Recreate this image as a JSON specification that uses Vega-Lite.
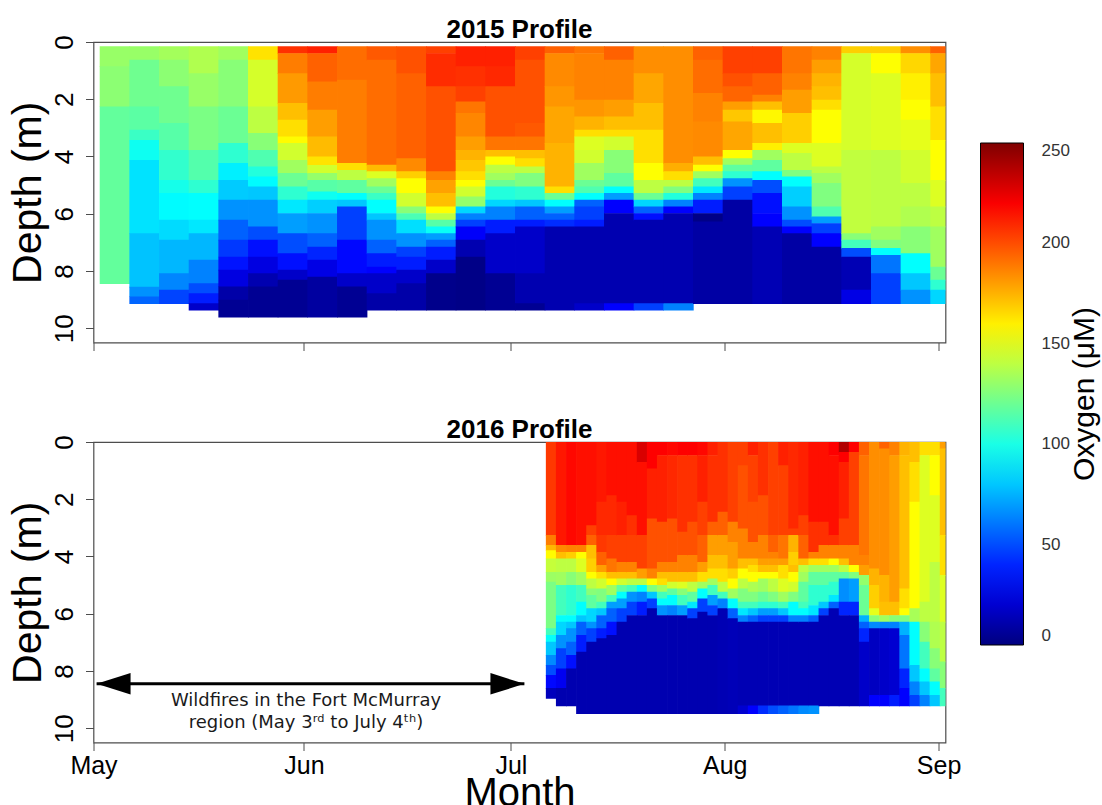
{
"$schema": "https://vega.github.io/schema/vega-lite/v6.json",
"background": "white",
"padding": {"left": 6.5, "top": 16, "right": 0, "bottom": 0},
"config": {
  "font": "Liberation Sans",
  "view": {"stroke": "#4d4d4d", "strokeWidth": 1.2},
  "axis": {"grid": false, "domain": false, "tickColor": "#4d4d4d", "tickSize": 8, "labelColor": "#000", "titleColor": "#000", "titleFontWeight": "normal"},
  "title": {"fontSize": 26, "fontWeight": "bold", "color": "#000", "baseline": "alphabetic", "offset": -8.2},
  "concat": {"spacing": 64}
},
"datasets": {
"y15": [
{"d":1.4,"e":5.7,"t":0.15,"b":0.85,"o":131},{"d":1.4,"e":5.7,"t":0.85,"b":2.25,"o":128},{"d":1.4,"e":5.7,"t":2.25,"b":8.43,"o":118},
{"d":5.7,"e":10.0,"t":0.15,"b":0.62,"o":131},{"d":5.7,"e":10.0,"t":0.62,"b":2.25,"o":121},{"d":5.7,"e":10.0,"t":2.25,"b":3.07,"o":116},{"d":5.7,"e":10.0,"t":3.07,"b":3.42,"o":108},{"d":5.7,"e":10.0,"t":3.42,"b":4.12,"o":97},{"d":5.7,"e":10.0,"t":4.12,"b":6.68,"o":87},{"d":5.7,"e":10.0,"t":6.68,"b":8.55,"o":79},{"d":5.7,"e":10.0,"t":8.55,"b":8.89,"o":67},{"d":5.7,"e":10.0,"t":8.89,"b":9.13,"o":56},
{"d":10.0,"e":14.3,"t":0.15,"b":0.62,"o":134},{"d":10.0,"e":14.3,"t":0.62,"b":1.55,"o":128},{"d":10.0,"e":14.3,"t":1.55,"b":2.83,"o":121},{"d":10.0,"e":14.3,"t":2.83,"b":3.77,"o":115},{"d":10.0,"e":14.3,"t":3.77,"b":4.82,"o":106},{"d":10.0,"e":14.3,"t":4.82,"b":5.28,"o":99},{"d":10.0,"e":14.3,"t":5.28,"b":6.21,"o":93},{"d":10.0,"e":14.3,"t":6.21,"b":6.91,"o":85},{"d":10.0,"e":14.3,"t":6.91,"b":8.08,"o":76},{"d":10.0,"e":14.3,"t":8.08,"b":8.66,"o":64},{"d":10.0,"e":14.3,"t":8.66,"b":9.13,"o":48},
{"d":14.3,"e":18.6,"t":0.15,"b":1.09,"o":137},{"d":14.3,"e":18.6,"t":1.09,"b":2.25,"o":131},{"d":14.3,"e":18.6,"t":2.25,"b":3.77,"o":124},{"d":14.3,"e":18.6,"t":3.77,"b":4.82,"o":114},{"d":14.3,"e":18.6,"t":4.82,"b":5.28,"o":105},{"d":14.3,"e":18.6,"t":5.28,"b":6.21,"o":94},{"d":14.3,"e":18.6,"t":6.21,"b":6.68,"o":88},{"d":14.3,"e":18.6,"t":6.68,"b":7.61,"o":76},{"d":14.3,"e":18.6,"t":7.61,"b":8.43,"o":63},{"d":14.3,"e":18.6,"t":8.43,"b":8.78,"o":50},{"d":14.3,"e":18.6,"t":8.78,"b":9.13,"o":38},{"d":14.3,"e":18.6,"t":9.13,"b":9.36,"o":18},
{"d":18.6,"e":22.9,"t":0.15,"b":0.62,"o":133},{"d":18.6,"e":22.9,"t":0.62,"b":2.25,"o":127},{"d":18.6,"e":22.9,"t":2.25,"b":3.53,"o":120},{"d":18.6,"e":22.9,"t":3.53,"b":4.23,"o":105},{"d":18.6,"e":22.9,"t":4.23,"b":4.82,"o":90},{"d":18.6,"e":22.9,"t":4.82,"b":5.51,"o":81},{"d":18.6,"e":22.9,"t":5.51,"b":6.21,"o":67},{"d":18.6,"e":22.9,"t":6.21,"b":6.91,"o":55},{"d":18.6,"e":22.9,"t":6.91,"b":7.5,"o":45},{"d":18.6,"e":22.9,"t":7.5,"b":7.96,"o":36},{"d":18.6,"e":22.9,"t":7.96,"b":8.54,"o":24},{"d":18.6,"e":22.9,"t":8.54,"b":9.01,"o":10},{"d":18.6,"e":22.9,"t":9.01,"b":9.6,"o":5},
{"d":22.9,"e":27.2,"t":0.15,"b":0.62,"o":163},{"d":22.9,"e":27.2,"t":0.62,"b":2.25,"o":146},{"d":22.9,"e":27.2,"t":2.25,"b":3.18,"o":140},{"d":22.9,"e":27.2,"t":3.18,"b":3.77,"o":127},{"d":22.9,"e":27.2,"t":3.77,"b":4.35,"o":113},{"d":22.9,"e":27.2,"t":4.35,"b":4.7,"o":102},{"d":22.9,"e":27.2,"t":4.7,"b":5.05,"o":93},{"d":22.9,"e":27.2,"t":5.05,"b":5.51,"o":80},{"d":22.9,"e":27.2,"t":5.51,"b":6.45,"o":67},{"d":22.9,"e":27.2,"t":6.45,"b":6.91,"o":50},{"d":22.9,"e":27.2,"t":6.91,"b":7.5,"o":35},{"d":22.9,"e":27.2,"t":7.5,"b":8.08,"o":24},{"d":22.9,"e":27.2,"t":8.08,"b":8.54,"o":12},{"d":22.9,"e":27.2,"t":8.54,"b":9.6,"o":5},
{"d":27.2,"e":31.5,"t":0.15,"b":0.39,"o":207},{"d":27.2,"e":31.5,"t":0.39,"b":1.09,"o":188},{"d":27.2,"e":31.5,"t":1.09,"b":2.13,"o":181},{"d":27.2,"e":31.5,"t":2.13,"b":2.72,"o":172},{"d":27.2,"e":31.5,"t":2.72,"b":3.3,"o":164},{"d":27.2,"e":31.5,"t":3.3,"b":3.53,"o":157},{"d":27.2,"e":31.5,"t":3.53,"b":4.12,"o":145},{"d":27.2,"e":31.5,"t":4.12,"b":4.58,"o":133},{"d":27.2,"e":31.5,"t":4.58,"b":5.05,"o":120},{"d":27.2,"e":31.5,"t":5.05,"b":5.51,"o":105},{"d":27.2,"e":31.5,"t":5.51,"b":5.98,"o":88},{"d":27.2,"e":31.5,"t":5.98,"b":6.68,"o":70},{"d":27.2,"e":31.5,"t":6.68,"b":7.38,"o":50},{"d":27.2,"e":31.5,"t":7.38,"b":7.96,"o":35},{"d":27.2,"e":31.5,"t":7.96,"b":8.31,"o":18},{"d":27.2,"e":31.5,"t":8.31,"b":9.6,"o":5},
{"d":31.5,"e":35.8,"t":0.15,"b":0.39,"o":211},{"d":31.5,"e":35.8,"t":0.39,"b":1.38,"o":195},{"d":31.5,"e":35.8,"t":1.38,"b":2.37,"o":188},{"d":31.5,"e":35.8,"t":2.37,"b":3.3,"o":180},{"d":31.5,"e":35.8,"t":3.3,"b":4.0,"o":173},{"d":31.5,"e":35.8,"t":4.0,"b":4.3,"o":163},{"d":31.5,"e":35.8,"t":4.3,"b":4.58,"o":145},{"d":31.5,"e":35.8,"t":4.58,"b":4.82,"o":130},{"d":31.5,"e":35.8,"t":4.82,"b":5.22,"o":115},{"d":31.5,"e":35.8,"t":5.22,"b":5.51,"o":97},{"d":31.5,"e":35.8,"t":5.51,"b":5.98,"o":82},{"d":31.5,"e":35.8,"t":5.98,"b":6.68,"o":67},{"d":31.5,"e":35.8,"t":6.68,"b":7.15,"o":55},{"d":31.5,"e":35.8,"t":7.15,"b":7.61,"o":40},{"d":31.5,"e":35.8,"t":7.61,"b":8.2,"o":25},{"d":31.5,"e":35.8,"t":8.2,"b":9.6,"o":8},
{"d":35.8,"e":40.1,"t":0.15,"b":1.32,"o":192},{"d":35.8,"e":40.1,"t":1.32,"b":4.23,"o":188},{"d":35.8,"e":40.1,"t":4.23,"b":4.47,"o":164},{"d":35.8,"e":40.1,"t":4.47,"b":4.82,"o":140},{"d":35.8,"e":40.1,"t":4.82,"b":5.28,"o":117},{"d":35.8,"e":40.1,"t":5.28,"b":5.51,"o":94},{"d":35.8,"e":40.1,"t":5.51,"b":5.75,"o":80},{"d":35.8,"e":40.1,"t":5.75,"b":6.91,"o":47},{"d":35.8,"e":40.1,"t":6.91,"b":8.08,"o":33},{"d":35.8,"e":40.1,"t":8.08,"b":8.54,"o":18},{"d":35.8,"e":40.1,"t":8.54,"b":9.6,"o":5},
{"d":40.1,"e":44.4,"t":0.15,"b":0.62,"o":197},{"d":40.1,"e":44.4,"t":0.62,"b":4.29,"o":192},{"d":40.1,"e":44.4,"t":4.29,"b":4.52,"o":173},{"d":40.1,"e":44.4,"t":4.52,"b":4.76,"o":148},{"d":40.1,"e":44.4,"t":4.76,"b":5.05,"o":133},{"d":40.1,"e":44.4,"t":5.05,"b":5.28,"o":120},{"d":40.1,"e":44.4,"t":5.28,"b":5.51,"o":108},{"d":40.1,"e":44.4,"t":5.51,"b":5.98,"o":94},{"d":40.1,"e":44.4,"t":5.98,"b":6.21,"o":80},{"d":40.1,"e":44.4,"t":6.21,"b":6.91,"o":67},{"d":40.1,"e":44.4,"t":6.91,"b":7.38,"o":55},{"d":40.1,"e":44.4,"t":7.38,"b":7.85,"o":38},{"d":40.1,"e":44.4,"t":7.85,"b":8.08,"o":31},{"d":40.1,"e":44.4,"t":8.08,"b":8.78,"o":18},{"d":40.1,"e":44.4,"t":8.78,"b":9.36,"o":10},
{"d":44.4,"e":48.7,"t":0.15,"b":1.09,"o":199},{"d":44.4,"e":48.7,"t":1.09,"b":4.06,"o":195},{"d":44.4,"e":48.7,"t":4.06,"b":4.52,"o":185},{"d":44.4,"e":48.7,"t":4.52,"b":4.76,"o":168},{"d":44.4,"e":48.7,"t":4.76,"b":5.28,"o":156},{"d":44.4,"e":48.7,"t":5.28,"b":5.75,"o":145},{"d":44.4,"e":48.7,"t":5.75,"b":5.98,"o":127},{"d":44.4,"e":48.7,"t":5.98,"b":6.21,"o":112},{"d":44.4,"e":48.7,"t":6.21,"b":6.68,"o":86},{"d":44.4,"e":48.7,"t":6.68,"b":7.15,"o":67},{"d":44.4,"e":48.7,"t":7.15,"b":7.5,"o":47},{"d":44.4,"e":48.7,"t":7.5,"b":7.96,"o":38},{"d":44.4,"e":48.7,"t":7.96,"b":8.43,"o":18},{"d":44.4,"e":48.7,"t":8.43,"b":9.36,"o":10},
{"d":48.7,"e":53.0,"t":0.15,"b":0.39,"o":203},{"d":48.7,"e":53.0,"t":0.39,"b":1.55,"o":208},{"d":48.7,"e":53.0,"t":1.55,"b":4.52,"o":199},{"d":48.7,"e":53.0,"t":4.52,"b":4.82,"o":187},{"d":48.7,"e":53.0,"t":4.82,"b":5.28,"o":179},{"d":48.7,"e":53.0,"t":5.28,"b":5.75,"o":172},{"d":48.7,"e":53.0,"t":5.75,"b":5.98,"o":156},{"d":48.7,"e":53.0,"t":5.98,"b":6.21,"o":140},{"d":48.7,"e":53.0,"t":6.21,"b":6.45,"o":115},{"d":48.7,"e":53.0,"t":6.45,"b":6.68,"o":96},{"d":48.7,"e":53.0,"t":6.68,"b":6.91,"o":70},{"d":48.7,"e":53.0,"t":6.91,"b":7.15,"o":55},{"d":48.7,"e":53.0,"t":7.15,"b":7.61,"o":38},{"d":48.7,"e":53.0,"t":7.61,"b":8.08,"o":18},{"d":48.7,"e":53.0,"t":8.08,"b":9.36,"o":3},
{"d":53.0,"e":57.3,"t":0.15,"b":0.85,"o":211},{"d":53.0,"e":57.3,"t":0.85,"b":1.55,"o":207},{"d":53.0,"e":57.3,"t":1.55,"b":2.08,"o":203},{"d":53.0,"e":57.3,"t":2.08,"b":2.48,"o":190},{"d":53.0,"e":57.3,"t":2.48,"b":3.3,"o":186},{"d":53.0,"e":57.3,"t":3.3,"b":3.77,"o":180},{"d":53.0,"e":57.3,"t":3.77,"b":4.12,"o":175},{"d":53.0,"e":57.3,"t":4.12,"b":4.52,"o":170},{"d":53.0,"e":57.3,"t":4.52,"b":4.82,"o":164},{"d":53.0,"e":57.3,"t":4.82,"b":5.05,"o":156},{"d":53.0,"e":57.3,"t":5.05,"b":5.4,"o":145},{"d":53.0,"e":57.3,"t":5.4,"b":5.75,"o":130},{"d":53.0,"e":57.3,"t":5.75,"b":5.98,"o":84},{"d":53.0,"e":57.3,"t":5.98,"b":6.21,"o":63},{"d":53.0,"e":57.3,"t":6.21,"b":6.45,"o":47},{"d":53.0,"e":57.3,"t":6.45,"b":6.91,"o":30},{"d":53.0,"e":57.3,"t":6.91,"b":7.5,"o":12},{"d":53.0,"e":57.3,"t":7.5,"b":9.36,"o":2},
{"d":57.3,"e":61.6,"t":0.15,"b":0.85,"o":211},{"d":57.3,"e":61.6,"t":0.85,"b":1.55,"o":209},{"d":57.3,"e":61.6,"t":1.55,"b":3.3,"o":199},{"d":57.3,"e":61.6,"t":3.3,"b":3.77,"o":190},{"d":57.3,"e":61.6,"t":3.77,"b":4.0,"o":172},{"d":57.3,"e":61.6,"t":4.0,"b":4.29,"o":156},{"d":57.3,"e":61.6,"t":4.29,"b":4.58,"o":140},{"d":57.3,"e":61.6,"t":4.58,"b":4.82,"o":133},{"d":57.3,"e":61.6,"t":4.82,"b":5.05,"o":120},{"d":57.3,"e":61.6,"t":5.05,"b":5.51,"o":102},{"d":57.3,"e":61.6,"t":5.51,"b":5.75,"o":84},{"d":57.3,"e":61.6,"t":5.75,"b":6.21,"o":63},{"d":57.3,"e":61.6,"t":6.21,"b":6.68,"o":38},{"d":57.3,"e":61.6,"t":6.68,"b":8.08,"o":18},{"d":57.3,"e":61.6,"t":8.08,"b":9.36,"o":5},
{"d":61.6,"e":65.9,"t":0.15,"b":0.62,"o":203},{"d":61.6,"e":65.9,"t":0.62,"b":2.83,"o":199},{"d":61.6,"e":65.9,"t":2.83,"b":3.3,"o":197},{"d":61.6,"e":65.9,"t":3.3,"b":3.77,"o":190},{"d":61.6,"e":65.9,"t":3.77,"b":4.06,"o":172},{"d":61.6,"e":65.9,"t":4.06,"b":4.35,"o":164},{"d":61.6,"e":65.9,"t":4.35,"b":4.58,"o":140},{"d":61.6,"e":65.9,"t":4.58,"b":5.05,"o":125},{"d":61.6,"e":65.9,"t":5.05,"b":5.51,"o":105},{"d":61.6,"e":65.9,"t":5.51,"b":5.75,"o":80},{"d":61.6,"e":65.9,"t":5.75,"b":6.21,"o":55},{"d":61.6,"e":65.9,"t":6.21,"b":6.45,"o":38},{"d":61.6,"e":65.9,"t":6.45,"b":8.08,"o":18},{"d":61.6,"e":65.9,"t":8.08,"b":9.13,"o":12},{"d":61.6,"e":65.9,"t":9.13,"b":9.36,"o":5},
{"d":65.9,"e":70.2,"t":0.15,"b":0.39,"o":195},{"d":65.9,"e":70.2,"t":0.39,"b":1.55,"o":185},{"d":65.9,"e":70.2,"t":1.55,"b":2.25,"o":182},{"d":65.9,"e":70.2,"t":2.25,"b":3.53,"o":178},{"d":65.9,"e":70.2,"t":3.53,"b":5.05,"o":175},{"d":65.9,"e":70.2,"t":5.05,"b":5.28,"o":164},{"d":65.9,"e":70.2,"t":5.28,"b":5.51,"o":120},{"d":65.9,"e":70.2,"t":5.51,"b":5.75,"o":94},{"d":65.9,"e":70.2,"t":5.75,"b":5.98,"o":70},{"d":65.9,"e":70.2,"t":5.98,"b":6.21,"o":55},{"d":65.9,"e":70.2,"t":6.21,"b":6.45,"o":42},{"d":65.9,"e":70.2,"t":6.45,"b":9.36,"o":12},
{"d":70.2,"e":74.5,"t":0.15,"b":0.39,"o":190},{"d":70.2,"e":74.5,"t":0.39,"b":2.02,"o":187},{"d":70.2,"e":74.5,"t":2.02,"b":2.6,"o":182},{"d":70.2,"e":74.5,"t":2.6,"b":3.07,"o":175},{"d":70.2,"e":74.5,"t":3.07,"b":3.3,"o":164},{"d":70.2,"e":74.5,"t":3.3,"b":3.77,"o":148},{"d":70.2,"e":74.5,"t":3.77,"b":4.23,"o":145},{"d":70.2,"e":74.5,"t":4.23,"b":4.82,"o":133},{"d":70.2,"e":74.5,"t":4.82,"b":5.05,"o":120},{"d":70.2,"e":74.5,"t":5.05,"b":5.28,"o":113},{"d":70.2,"e":74.5,"t":5.28,"b":5.51,"o":94},{"d":70.2,"e":74.5,"t":5.51,"b":5.75,"o":55},{"d":70.2,"e":74.5,"t":5.75,"b":6.21,"o":47},{"d":70.2,"e":74.5,"t":6.21,"b":6.45,"o":38},{"d":70.2,"e":74.5,"t":6.45,"b":9.13,"o":12},{"d":70.2,"e":74.5,"t":9.13,"b":9.36,"o":18},
{"d":74.5,"e":78.8,"t":0.15,"b":0.62,"o":195},{"d":74.5,"e":78.8,"t":0.62,"b":2.02,"o":187},{"d":74.5,"e":78.8,"t":2.02,"b":2.6,"o":180},{"d":74.5,"e":78.8,"t":2.6,"b":3.07,"o":172},{"d":74.5,"e":78.8,"t":3.07,"b":3.3,"o":164},{"d":74.5,"e":78.8,"t":3.3,"b":3.77,"o":145},{"d":74.5,"e":78.8,"t":3.77,"b":4.58,"o":127},{"d":74.5,"e":78.8,"t":4.58,"b":5.05,"o":117},{"d":74.5,"e":78.8,"t":5.05,"b":5.28,"o":94},{"d":74.5,"e":78.8,"t":5.28,"b":5.51,"o":70},{"d":74.5,"e":78.8,"t":5.51,"b":5.98,"o":31},{"d":74.5,"e":78.8,"t":5.98,"b":9.13,"o":12},{"d":74.5,"e":78.8,"t":9.13,"b":9.36,"o":31},
{"d":78.8,"e":83.1,"t":0.15,"b":1.09,"o":184},{"d":78.8,"e":83.1,"t":1.09,"b":2.13,"o":178},{"d":78.8,"e":83.1,"t":2.13,"b":3.07,"o":172},{"d":78.8,"e":83.1,"t":3.07,"b":4.23,"o":164},{"d":78.8,"e":83.1,"t":4.23,"b":4.82,"o":156},{"d":78.8,"e":83.1,"t":4.82,"b":5.28,"o":140},{"d":78.8,"e":83.1,"t":5.28,"b":5.51,"o":120},{"d":78.8,"e":83.1,"t":5.51,"b":5.75,"o":84},{"d":78.8,"e":83.1,"t":5.75,"b":5.98,"o":55},{"d":78.8,"e":83.1,"t":5.98,"b":6.21,"o":35},{"d":78.8,"e":83.1,"t":6.21,"b":9.13,"o":12},{"d":78.8,"e":83.1,"t":9.13,"b":9.36,"o":47},
{"d":83.1,"e":87.4,"t":0.15,"b":4.23,"o":184},{"d":83.1,"e":87.4,"t":4.23,"b":4.52,"o":176},{"d":83.1,"e":87.4,"t":4.52,"b":4.82,"o":164},{"d":83.1,"e":87.4,"t":4.82,"b":5.05,"o":140},{"d":83.1,"e":87.4,"t":5.05,"b":5.28,"o":125},{"d":83.1,"e":87.4,"t":5.28,"b":5.51,"o":102},{"d":83.1,"e":87.4,"t":5.51,"b":5.75,"o":63},{"d":83.1,"e":87.4,"t":5.75,"b":5.98,"o":31},{"d":83.1,"e":87.4,"t":5.98,"b":9.13,"o":12},{"d":83.1,"e":87.4,"t":9.13,"b":9.36,"o":63},
{"d":87.4,"e":91.7,"t":0.15,"b":0.62,"o":195},{"d":87.4,"e":91.7,"t":0.62,"b":1.78,"o":192},{"d":87.4,"e":91.7,"t":1.78,"b":2.78,"o":187},{"d":87.4,"e":91.7,"t":2.78,"b":4.0,"o":185},{"d":87.4,"e":91.7,"t":4.0,"b":4.29,"o":172},{"d":87.4,"e":91.7,"t":4.29,"b":4.52,"o":156},{"d":87.4,"e":91.7,"t":4.52,"b":4.76,"o":133},{"d":87.4,"e":91.7,"t":4.76,"b":5.05,"o":110},{"d":87.4,"e":91.7,"t":5.05,"b":5.28,"o":88},{"d":87.4,"e":91.7,"t":5.28,"b":5.51,"o":63},{"d":87.4,"e":91.7,"t":5.51,"b":5.98,"o":38},{"d":87.4,"e":91.7,"t":5.98,"b":6.27,"o":2},{"d":87.4,"e":91.7,"t":6.27,"b":9.13,"o":9},
{"d":91.7,"e":96.0,"t":0.15,"b":1.09,"o":203},{"d":91.7,"e":96.0,"t":1.09,"b":1.55,"o":199},{"d":91.7,"e":96.0,"t":1.55,"b":2.08,"o":194},{"d":91.7,"e":96.0,"t":2.08,"b":2.37,"o":180},{"d":91.7,"e":96.0,"t":2.37,"b":2.78,"o":170},{"d":91.7,"e":96.0,"t":2.78,"b":3.77,"o":178},{"d":91.7,"e":96.0,"t":3.77,"b":4.06,"o":156},{"d":91.7,"e":96.0,"t":4.06,"b":4.29,"o":133},{"d":91.7,"e":96.0,"t":4.29,"b":4.52,"o":117},{"d":91.7,"e":96.0,"t":4.52,"b":4.76,"o":105},{"d":91.7,"e":96.0,"t":4.76,"b":5.05,"o":67},{"d":91.7,"e":96.0,"t":5.05,"b":5.51,"o":47},{"d":91.7,"e":96.0,"t":5.51,"b":9.13,"o":9},
{"d":96.0,"e":100.3,"t":0.15,"b":1.09,"o":203},{"d":96.0,"e":100.3,"t":1.09,"b":1.84,"o":195},{"d":96.0,"e":100.3,"t":1.84,"b":2.08,"o":187},{"d":96.0,"e":100.3,"t":2.08,"b":2.37,"o":172},{"d":96.0,"e":100.3,"t":2.37,"b":2.83,"o":158},{"d":96.0,"e":100.3,"t":2.83,"b":3.53,"o":172},{"d":96.0,"e":100.3,"t":3.53,"b":3.77,"o":160},{"d":96.0,"e":100.3,"t":3.77,"b":4.12,"o":133},{"d":96.0,"e":100.3,"t":4.12,"b":4.52,"o":117},{"d":96.0,"e":100.3,"t":4.52,"b":4.82,"o":94},{"d":96.0,"e":100.3,"t":4.82,"b":5.28,"o":50},{"d":96.0,"e":100.3,"t":5.28,"b":5.98,"o":35},{"d":96.0,"e":100.3,"t":5.98,"b":6.45,"o":31},{"d":96.0,"e":100.3,"t":6.45,"b":9.13,"o":13},
{"d":100.3,"e":104.6,"t":0.15,"b":1.09,"o":190},{"d":100.3,"e":104.6,"t":1.09,"b":1.67,"o":187},{"d":100.3,"e":104.6,"t":1.67,"b":2.48,"o":180},{"d":100.3,"e":104.6,"t":2.48,"b":3.53,"o":168},{"d":100.3,"e":104.6,"t":3.53,"b":3.88,"o":148},{"d":100.3,"e":104.6,"t":3.88,"b":4.47,"o":140},{"d":100.3,"e":104.6,"t":4.47,"b":4.7,"o":125},{"d":100.3,"e":104.6,"t":4.7,"b":5.05,"o":94},{"d":100.3,"e":104.6,"t":5.05,"b":5.75,"o":82},{"d":100.3,"e":104.6,"t":5.75,"b":6.21,"o":67},{"d":100.3,"e":104.6,"t":6.21,"b":6.45,"o":50},{"d":100.3,"e":104.6,"t":6.45,"b":6.68,"o":31},{"d":100.3,"e":104.6,"t":6.68,"b":9.13,"o":9},
{"d":104.6,"e":108.9,"t":0.15,"b":0.62,"o":187},{"d":104.6,"e":108.9,"t":0.62,"b":1.09,"o":180},{"d":104.6,"e":108.9,"t":1.09,"b":1.55,"o":175},{"d":104.6,"e":108.9,"t":1.55,"b":2.02,"o":172},{"d":104.6,"e":108.9,"t":2.02,"b":2.37,"o":164},{"d":104.6,"e":108.9,"t":2.37,"b":3.53,"o":156},{"d":104.6,"e":108.9,"t":3.53,"b":4.35,"o":148},{"d":104.6,"e":108.9,"t":4.35,"b":4.58,"o":140},{"d":104.6,"e":108.9,"t":4.58,"b":4.93,"o":133},{"d":104.6,"e":108.9,"t":4.93,"b":5.75,"o":125},{"d":104.6,"e":108.9,"t":5.75,"b":6.1,"o":113},{"d":104.6,"e":108.9,"t":6.1,"b":6.33,"o":70},{"d":104.6,"e":108.9,"t":6.33,"b":6.68,"o":47},{"d":104.6,"e":108.9,"t":6.68,"b":7.15,"o":31},{"d":104.6,"e":108.9,"t":7.15,"b":9.13,"o":9},
{"d":108.9,"e":113.2,"t":0.15,"b":0.39,"o":168},{"d":108.9,"e":113.2,"t":0.39,"b":3.77,"o":146},{"d":108.9,"e":113.2,"t":3.77,"b":6.68,"o":141},{"d":108.9,"e":113.2,"t":6.68,"b":6.91,"o":127},{"d":108.9,"e":113.2,"t":6.91,"b":7.2,"o":110},{"d":108.9,"e":113.2,"t":7.2,"b":7.5,"o":50},{"d":108.9,"e":113.2,"t":7.5,"b":8.66,"o":13},{"d":108.9,"e":113.2,"t":8.66,"b":9.13,"o":25},
{"d":113.2,"e":117.5,"t":0.15,"b":0.39,"o":168},{"d":113.2,"e":117.5,"t":0.39,"b":1.09,"o":156},{"d":113.2,"e":117.5,"t":1.09,"b":3.77,"o":148},{"d":113.2,"e":117.5,"t":3.77,"b":6.45,"o":140},{"d":113.2,"e":117.5,"t":6.45,"b":6.91,"o":133},{"d":113.2,"e":117.5,"t":6.91,"b":7.2,"o":125},{"d":113.2,"e":117.5,"t":7.2,"b":7.44,"o":94},{"d":113.2,"e":117.5,"t":7.44,"b":8.08,"o":60},{"d":113.2,"e":117.5,"t":8.08,"b":9.13,"o":47},
{"d":117.5,"e":121.8,"t":0.15,"b":0.39,"o":184},{"d":117.5,"e":121.8,"t":0.39,"b":1.09,"o":166},{"d":117.5,"e":121.8,"t":1.09,"b":2.02,"o":160},{"d":117.5,"e":121.8,"t":2.02,"b":2.72,"o":156},{"d":117.5,"e":121.8,"t":2.72,"b":3.77,"o":150},{"d":117.5,"e":121.8,"t":3.77,"b":4.93,"o":145},{"d":117.5,"e":121.8,"t":4.93,"b":5.75,"o":140},{"d":117.5,"e":121.8,"t":5.75,"b":6.45,"o":137},{"d":117.5,"e":121.8,"t":6.45,"b":7.38,"o":127},{"d":117.5,"e":121.8,"t":7.38,"b":8.08,"o":94},{"d":117.5,"e":121.8,"t":8.08,"b":8.66,"o":80},{"d":117.5,"e":121.8,"t":8.66,"b":9.13,"o":67},
{"d":121.8,"e":126.1,"t":0.15,"b":0.39,"o":195},{"d":121.8,"e":126.1,"t":0.39,"b":1.09,"o":178},{"d":121.8,"e":126.1,"t":1.09,"b":2.25,"o":172},{"d":121.8,"e":126.1,"t":2.25,"b":3.42,"o":164},{"d":121.8,"e":126.1,"t":3.42,"b":4.82,"o":156},{"d":121.8,"e":126.1,"t":4.82,"b":5.75,"o":148},{"d":121.8,"e":126.1,"t":5.75,"b":6.45,"o":140},{"d":121.8,"e":126.1,"t":6.45,"b":7.85,"o":133},{"d":121.8,"e":126.1,"t":7.85,"b":8.31,"o":120},{"d":121.8,"e":126.1,"t":8.31,"b":8.66,"o":105},{"d":121.8,"e":126.1,"t":8.66,"b":9.13,"o":84}
],
"y16": [
{"d":66.07,"e":67.53,"t":0,"b":3.25,"o":205},{"d":66.07,"e":67.53,"t":3.25,"b":3.6,"o":188},{"d":66.07,"e":67.53,"t":3.6,"b":3.78,"o":174},{"d":66.07,"e":67.53,"t":3.78,"b":4.07,"o":157},{"d":66.07,"e":67.53,"t":4.07,"b":4.54,"o":142},{"d":66.07,"e":67.53,"t":4.54,"b":4.88,"o":132},{"d":66.07,"e":67.53,"t":4.88,"b":6.51,"o":124},{"d":66.07,"e":67.53,"t":6.51,"b":6.74,"o":110},{"d":66.07,"e":67.53,"t":6.74,"b":6.98,"o":95},{"d":66.07,"e":67.53,"t":6.98,"b":7.44,"o":80},{"d":66.07,"e":67.53,"t":7.44,"b":7.79,"o":65},{"d":66.07,"e":67.53,"t":7.79,"b":8.14,"o":50},{"d":66.07,"e":67.53,"t":8.14,"b":8.6,"o":33},{"d":66.07,"e":67.53,"t":8.6,"b":8.95,"o":15},
{"d":67.53,"e":69.0,"t":0,"b":3.6,"o":213},{"d":67.53,"e":69.0,"t":3.6,"b":3.84,"o":185},{"d":67.53,"e":69.0,"t":3.84,"b":4.07,"o":172},{"d":67.53,"e":69.0,"t":4.07,"b":4.54,"o":140},{"d":67.53,"e":69.0,"t":4.54,"b":5.0,"o":133},{"d":67.53,"e":69.0,"t":5.0,"b":6.05,"o":110},{"d":67.53,"e":69.0,"t":6.05,"b":6.28,"o":95},{"d":67.53,"e":69.0,"t":6.28,"b":6.74,"o":84},{"d":67.53,"e":69.0,"t":6.74,"b":7.21,"o":67},{"d":67.53,"e":69.0,"t":7.21,"b":7.91,"o":47},{"d":67.53,"e":69.0,"t":7.91,"b":8.6,"o":28},{"d":67.53,"e":69.0,"t":8.6,"b":9.21,"o":12},
{"d":69.0,"e":70.46,"t":0,"b":3.6,"o":217},{"d":69.0,"e":70.46,"t":3.6,"b":3.84,"o":187},{"d":69.0,"e":70.46,"t":3.84,"b":4.07,"o":168},{"d":69.0,"e":70.46,"t":4.07,"b":4.54,"o":140},{"d":69.0,"e":70.46,"t":4.54,"b":5.0,"o":127},{"d":69.0,"e":70.46,"t":5.0,"b":6.05,"o":105},{"d":69.0,"e":70.46,"t":6.05,"b":6.28,"o":94},{"d":69.0,"e":70.46,"t":6.28,"b":6.51,"o":80},{"d":69.0,"e":70.46,"t":6.51,"b":6.98,"o":67},{"d":69.0,"e":70.46,"t":6.98,"b":7.44,"o":55},{"d":69.0,"e":70.46,"t":7.44,"b":7.91,"o":35},{"d":69.0,"e":70.46,"t":7.91,"b":9.21,"o":12},
{"d":70.46,"e":71.93,"t":0,"b":3.6,"o":215},{"d":70.46,"e":71.93,"t":3.6,"b":3.84,"o":187},{"d":70.46,"e":71.93,"t":3.84,"b":4.07,"o":156},{"d":70.46,"e":71.93,"t":4.07,"b":4.54,"o":148},{"d":70.46,"e":71.93,"t":4.54,"b":5.0,"o":133},{"d":70.46,"e":71.93,"t":5.0,"b":5.58,"o":110},{"d":70.46,"e":71.93,"t":5.58,"b":6.05,"o":94},{"d":70.46,"e":71.93,"t":6.05,"b":6.28,"o":80},{"d":70.46,"e":71.93,"t":6.28,"b":6.74,"o":55},{"d":70.46,"e":71.93,"t":6.74,"b":7.33,"o":38},{"d":70.46,"e":71.93,"t":7.33,"b":9.48,"o":12},
{"d":71.93,"e":73.39,"t":0,"b":2.91,"o":215},{"d":71.93,"e":73.39,"t":2.91,"b":3.25,"o":203},{"d":71.93,"e":73.39,"t":3.25,"b":3.6,"o":195},{"d":71.93,"e":73.39,"t":3.6,"b":4.07,"o":172},{"d":71.93,"e":73.39,"t":4.07,"b":4.54,"o":168},{"d":71.93,"e":73.39,"t":4.54,"b":4.77,"o":156},{"d":71.93,"e":73.39,"t":4.77,"b":5.12,"o":140},{"d":71.93,"e":73.39,"t":5.12,"b":5.35,"o":127},{"d":71.93,"e":73.39,"t":5.35,"b":5.81,"o":117},{"d":71.93,"e":73.39,"t":5.81,"b":6.28,"o":84},{"d":71.93,"e":73.39,"t":6.28,"b":6.51,"o":67},{"d":71.93,"e":73.39,"t":6.51,"b":6.98,"o":47},{"d":71.93,"e":73.39,"t":6.98,"b":9.48,"o":12},
{"d":73.39,"e":74.85,"t":0,"b":2.09,"o":213},{"d":73.39,"e":74.85,"t":2.09,"b":3.25,"o":209},{"d":73.39,"e":74.85,"t":3.25,"b":3.84,"o":205},{"d":73.39,"e":74.85,"t":3.84,"b":4.3,"o":195},{"d":73.39,"e":74.85,"t":4.3,"b":4.54,"o":180},{"d":73.39,"e":74.85,"t":4.54,"b":4.77,"o":164},{"d":73.39,"e":74.85,"t":4.77,"b":5.12,"o":145},{"d":73.39,"e":74.85,"t":5.12,"b":5.58,"o":125},{"d":73.39,"e":74.85,"t":5.58,"b":5.81,"o":110},{"d":73.39,"e":74.85,"t":5.81,"b":6.05,"o":80},{"d":73.39,"e":74.85,"t":6.05,"b":6.51,"o":55},{"d":73.39,"e":74.85,"t":6.51,"b":6.86,"o":38},{"d":73.39,"e":74.85,"t":6.86,"b":9.48,"o":12},
{"d":74.85,"e":76.32,"t":0,"b":1.86,"o":215},{"d":74.85,"e":76.32,"t":1.86,"b":3.25,"o":209},{"d":74.85,"e":76.32,"t":3.25,"b":4.07,"o":203},{"d":74.85,"e":76.32,"t":4.07,"b":4.54,"o":190},{"d":74.85,"e":76.32,"t":4.54,"b":4.77,"o":172},{"d":74.85,"e":76.32,"t":4.77,"b":5.0,"o":156},{"d":74.85,"e":76.32,"t":5.0,"b":5.35,"o":133},{"d":74.85,"e":76.32,"t":5.35,"b":5.58,"o":110},{"d":74.85,"e":76.32,"t":5.58,"b":5.81,"o":70},{"d":74.85,"e":76.32,"t":5.81,"b":6.28,"o":55},{"d":74.85,"e":76.32,"t":6.28,"b":6.74,"o":35},{"d":74.85,"e":76.32,"t":6.74,"b":9.48,"o":12},
{"d":76.32,"e":77.78,"t":0,"b":2.09,"o":215},{"d":76.32,"e":77.78,"t":2.09,"b":3.25,"o":211},{"d":76.32,"e":77.78,"t":3.25,"b":4.19,"o":203},{"d":76.32,"e":77.78,"t":4.19,"b":4.54,"o":187},{"d":76.32,"e":77.78,"t":4.54,"b":4.77,"o":172},{"d":76.32,"e":77.78,"t":4.77,"b":5.0,"o":145},{"d":76.32,"e":77.78,"t":5.0,"b":5.23,"o":117},{"d":76.32,"e":77.78,"t":5.23,"b":5.47,"o":94},{"d":76.32,"e":77.78,"t":5.47,"b":5.81,"o":70},{"d":76.32,"e":77.78,"t":5.81,"b":6.28,"o":47},{"d":76.32,"e":77.78,"t":6.28,"b":9.48,"o":12},
{"d":77.78,"e":79.25,"t":0,"b":2.56,"o":215},{"d":77.78,"e":79.25,"t":2.56,"b":3.25,"o":207},{"d":77.78,"e":79.25,"t":3.25,"b":4.19,"o":203},{"d":77.78,"e":79.25,"t":4.19,"b":4.54,"o":187},{"d":77.78,"e":79.25,"t":4.54,"b":4.77,"o":172},{"d":77.78,"e":79.25,"t":4.77,"b":5.0,"o":140},{"d":77.78,"e":79.25,"t":5.0,"b":5.23,"o":110},{"d":77.78,"e":79.25,"t":5.23,"b":5.58,"o":67},{"d":77.78,"e":79.25,"t":5.58,"b":6.05,"o":47},{"d":77.78,"e":79.25,"t":6.05,"b":9.48,"o":12},
{"d":79.25,"e":80.71,"t":0,"b":0.7,"o":228},{"d":79.25,"e":80.71,"t":0.7,"b":3.25,"o":215},{"d":79.25,"e":80.71,"t":3.25,"b":4.42,"o":203},{"d":79.25,"e":80.71,"t":4.42,"b":4.77,"o":180},{"d":79.25,"e":80.71,"t":4.77,"b":5.0,"o":140},{"d":79.25,"e":80.71,"t":5.0,"b":5.23,"o":94},{"d":79.25,"e":80.71,"t":5.23,"b":5.58,"o":63},{"d":79.25,"e":80.71,"t":5.58,"b":6.05,"o":38},{"d":79.25,"e":80.71,"t":6.05,"b":9.48,"o":12},
{"d":80.71,"e":82.17,"t":0,"b":0.93,"o":219},{"d":80.71,"e":82.17,"t":0.93,"b":2.67,"o":211},{"d":80.71,"e":82.17,"t":2.67,"b":4.42,"o":199},{"d":80.71,"e":82.17,"t":4.42,"b":4.77,"o":187},{"d":80.71,"e":82.17,"t":4.77,"b":5.0,"o":156},{"d":80.71,"e":82.17,"t":5.0,"b":5.23,"o":125},{"d":80.71,"e":82.17,"t":5.23,"b":5.47,"o":80},{"d":80.71,"e":82.17,"t":5.47,"b":5.81,"o":47},{"d":80.71,"e":82.17,"t":5.81,"b":9.48,"o":12},
{"d":82.17,"e":83.64,"t":0,"b":0.46,"o":219},{"d":82.17,"e":83.64,"t":0.46,"b":2.79,"o":211},{"d":82.17,"e":83.64,"t":2.79,"b":4.19,"o":199},{"d":82.17,"e":83.64,"t":4.19,"b":4.54,"o":187},{"d":82.17,"e":83.64,"t":4.54,"b":4.77,"o":172},{"d":82.17,"e":83.64,"t":4.77,"b":5.0,"o":164},{"d":82.17,"e":83.64,"t":5.0,"b":5.23,"o":133},{"d":82.17,"e":83.64,"t":5.23,"b":5.47,"o":110},{"d":82.17,"e":83.64,"t":5.47,"b":5.7,"o":94},{"d":82.17,"e":83.64,"t":5.7,"b":6.05,"o":67},{"d":82.17,"e":83.64,"t":6.05,"b":9.48,"o":12},
{"d":83.64,"e":85.1,"t":0,"b":0.46,"o":217},{"d":83.64,"e":85.1,"t":0.46,"b":2.67,"o":209},{"d":83.64,"e":85.1,"t":2.67,"b":4.19,"o":199},{"d":83.64,"e":85.1,"t":4.19,"b":4.54,"o":187},{"d":83.64,"e":85.1,"t":4.54,"b":4.88,"o":172},{"d":83.64,"e":85.1,"t":4.88,"b":5.12,"o":145},{"d":83.64,"e":85.1,"t":5.12,"b":5.35,"o":117},{"d":83.64,"e":85.1,"t":5.35,"b":5.7,"o":94},{"d":83.64,"e":85.1,"t":5.7,"b":6.05,"o":63},{"d":83.64,"e":85.1,"t":6.05,"b":9.48,"o":12},
{"d":85.1,"e":86.57,"t":0,"b":0.46,"o":219},{"d":85.1,"e":86.57,"t":0.46,"b":3.14,"o":207},{"d":85.1,"e":86.57,"t":3.14,"b":3.95,"o":199},{"d":85.1,"e":86.57,"t":3.95,"b":4.54,"o":187},{"d":85.1,"e":86.57,"t":4.54,"b":4.88,"o":172},{"d":85.1,"e":86.57,"t":4.88,"b":5.12,"o":148},{"d":85.1,"e":86.57,"t":5.12,"b":5.35,"o":127},{"d":85.1,"e":86.57,"t":5.35,"b":5.7,"o":110},{"d":85.1,"e":86.57,"t":5.7,"b":6.05,"o":70},{"d":85.1,"e":86.57,"t":6.05,"b":9.48,"o":12},
{"d":86.57,"e":88.03,"t":0,"b":0.46,"o":219},{"d":86.57,"e":88.03,"t":0.46,"b":2.79,"o":207},{"d":86.57,"e":88.03,"t":2.79,"b":3.95,"o":199},{"d":86.57,"e":88.03,"t":3.95,"b":4.54,"o":187},{"d":86.57,"e":88.03,"t":4.54,"b":4.88,"o":172},{"d":86.57,"e":88.03,"t":4.88,"b":5.23,"o":140},{"d":86.57,"e":88.03,"t":5.23,"b":5.58,"o":117},{"d":86.57,"e":88.03,"t":5.58,"b":5.81,"o":88},{"d":86.57,"e":88.03,"t":5.81,"b":6.16,"o":47},{"d":86.57,"e":88.03,"t":6.16,"b":9.48,"o":12},
{"d":88.03,"e":89.49,"t":0,"b":0.46,"o":217},{"d":88.03,"e":89.49,"t":0.46,"b":2.09,"o":211},{"d":88.03,"e":89.49,"t":2.09,"b":3.25,"o":203},{"d":88.03,"e":89.49,"t":3.25,"b":4.19,"o":195},{"d":88.03,"e":89.49,"t":4.19,"b":4.54,"o":180},{"d":88.03,"e":89.49,"t":4.54,"b":4.88,"o":164},{"d":88.03,"e":89.49,"t":4.88,"b":5.12,"o":133},{"d":88.03,"e":89.49,"t":5.12,"b":5.47,"o":94},{"d":88.03,"e":89.49,"t":5.47,"b":5.93,"o":47},{"d":88.03,"e":89.49,"t":5.93,"b":9.48,"o":12},
{"d":89.49,"e":90.96,"t":0,"b":0.46,"o":211},{"d":89.49,"e":90.96,"t":0.46,"b":2.79,"o":207},{"d":89.49,"e":90.96,"t":2.79,"b":3.25,"o":195},{"d":89.49,"e":90.96,"t":3.25,"b":3.95,"o":180},{"d":89.49,"e":90.96,"t":3.95,"b":4.42,"o":172},{"d":89.49,"e":90.96,"t":4.42,"b":4.77,"o":164},{"d":89.49,"e":90.96,"t":4.77,"b":5.0,"o":133},{"d":89.49,"e":90.96,"t":5.0,"b":5.35,"o":110},{"d":89.49,"e":90.96,"t":5.35,"b":5.7,"o":70},{"d":89.49,"e":90.96,"t":5.7,"b":6.05,"o":47},{"d":89.49,"e":90.96,"t":6.05,"b":9.48,"o":12},
{"d":90.96,"e":92.42,"t":0,"b":2.44,"o":207},{"d":90.96,"e":92.42,"t":2.44,"b":3.25,"o":195},{"d":90.96,"e":92.42,"t":3.25,"b":3.95,"o":180},{"d":90.96,"e":92.42,"t":3.95,"b":4.42,"o":172},{"d":90.96,"e":92.42,"t":4.42,"b":4.88,"o":164},{"d":90.96,"e":92.42,"t":4.88,"b":5.23,"o":140},{"d":90.96,"e":92.42,"t":5.23,"b":5.47,"o":110},{"d":90.96,"e":92.42,"t":5.47,"b":5.81,"o":63},{"d":90.96,"e":92.42,"t":5.81,"b":9.48,"o":13},
{"d":92.42,"e":93.89,"t":0,"b":2.79,"o":203},{"d":92.42,"e":93.89,"t":2.79,"b":3.49,"o":187},{"d":92.42,"e":93.89,"t":3.49,"b":4.42,"o":180},{"d":92.42,"e":93.89,"t":4.42,"b":4.77,"o":168},{"d":92.42,"e":93.89,"t":4.77,"b":5.12,"o":156},{"d":92.42,"e":93.89,"t":5.12,"b":5.47,"o":133},{"d":92.42,"e":93.89,"t":5.47,"b":5.81,"o":94},{"d":92.42,"e":93.89,"t":5.81,"b":6.16,"o":55},{"d":92.42,"e":93.89,"t":6.16,"b":9.48,"o":14},
{"d":93.89,"e":95.35,"t":0,"b":0.81,"o":203},{"d":93.89,"e":95.35,"t":0.81,"b":3.02,"o":199},{"d":93.89,"e":95.35,"t":3.02,"b":4.07,"o":187},{"d":93.89,"e":95.35,"t":4.07,"b":4.42,"o":172},{"d":93.89,"e":95.35,"t":4.42,"b":4.77,"o":156},{"d":93.89,"e":95.35,"t":4.77,"b":5.12,"o":140},{"d":93.89,"e":95.35,"t":5.12,"b":5.58,"o":125},{"d":93.89,"e":95.35,"t":5.58,"b":5.81,"o":110},{"d":93.89,"e":95.35,"t":5.81,"b":6.05,"o":88},{"d":93.89,"e":95.35,"t":6.05,"b":6.28,"o":63},{"d":93.89,"e":95.35,"t":6.28,"b":9.21,"o":13},{"d":93.89,"e":95.35,"t":9.21,"b":9.48,"o":20},
{"d":95.35,"e":96.81,"t":0,"b":0.46,"o":211},{"d":95.35,"e":96.81,"t":0.46,"b":2.09,"o":203},{"d":95.35,"e":96.81,"t":2.09,"b":3.49,"o":199},{"d":95.35,"e":96.81,"t":3.49,"b":4.07,"o":187},{"d":95.35,"e":96.81,"t":4.07,"b":4.3,"o":172},{"d":95.35,"e":96.81,"t":4.3,"b":4.54,"o":164},{"d":95.35,"e":96.81,"t":4.54,"b":4.88,"o":156},{"d":95.35,"e":96.81,"t":4.88,"b":5.23,"o":136},{"d":95.35,"e":96.81,"t":5.23,"b":5.58,"o":125},{"d":95.35,"e":96.81,"t":5.58,"b":5.81,"o":110},{"d":95.35,"e":96.81,"t":5.81,"b":6.05,"o":80},{"d":95.35,"e":96.81,"t":6.05,"b":6.28,"o":55},{"d":95.35,"e":96.81,"t":6.28,"b":9.21,"o":13},{"d":95.35,"e":96.81,"t":9.21,"b":9.48,"o":31},
{"d":96.81,"e":98.28,"t":0,"b":1.86,"o":207},{"d":96.81,"e":98.28,"t":1.86,"b":3.25,"o":199},{"d":96.81,"e":98.28,"t":3.25,"b":4.07,"o":187},{"d":96.81,"e":98.28,"t":4.07,"b":4.3,"o":180},{"d":96.81,"e":98.28,"t":4.3,"b":4.54,"o":172},{"d":96.81,"e":98.28,"t":4.54,"b":4.77,"o":156},{"d":96.81,"e":98.28,"t":4.77,"b":5.23,"o":133},{"d":96.81,"e":98.28,"t":5.23,"b":5.58,"o":120},{"d":96.81,"e":98.28,"t":5.58,"b":5.81,"o":105},{"d":96.81,"e":98.28,"t":5.81,"b":6.05,"o":70},{"d":96.81,"e":98.28,"t":6.05,"b":6.28,"o":47},{"d":96.81,"e":98.28,"t":6.28,"b":9.21,"o":13},{"d":96.81,"e":98.28,"t":9.21,"b":9.48,"o":42},
{"d":98.28,"e":99.74,"t":0,"b":3.25,"o":203},{"d":98.28,"e":99.74,"t":3.25,"b":3.84,"o":195},{"d":98.28,"e":99.74,"t":3.84,"b":4.07,"o":187},{"d":98.28,"e":99.74,"t":4.07,"b":4.3,"o":180},{"d":98.28,"e":99.74,"t":4.3,"b":4.54,"o":172},{"d":98.28,"e":99.74,"t":4.54,"b":4.77,"o":156},{"d":98.28,"e":99.74,"t":4.77,"b":5.23,"o":140},{"d":98.28,"e":99.74,"t":5.23,"b":5.58,"o":125},{"d":98.28,"e":99.74,"t":5.58,"b":5.81,"o":105},{"d":98.28,"e":99.74,"t":5.81,"b":6.05,"o":70},{"d":98.28,"e":99.74,"t":6.05,"b":6.28,"o":47},{"d":98.28,"e":99.74,"t":6.28,"b":9.21,"o":13},{"d":98.28,"e":99.74,"t":9.21,"b":9.48,"o":50},
{"d":99.74,"e":101.21,"t":0,"b":0.81,"o":211},{"d":99.74,"e":101.21,"t":0.81,"b":3.25,"o":203},{"d":99.74,"e":101.21,"t":3.25,"b":4.07,"o":190},{"d":99.74,"e":101.21,"t":4.07,"b":4.3,"o":180},{"d":99.74,"e":101.21,"t":4.3,"b":4.77,"o":164},{"d":99.74,"e":101.21,"t":4.77,"b":5.23,"o":148},{"d":99.74,"e":101.21,"t":5.23,"b":5.58,"o":133},{"d":99.74,"e":101.21,"t":5.58,"b":5.81,"o":110},{"d":99.74,"e":101.21,"t":5.81,"b":6.05,"o":80},{"d":99.74,"e":101.21,"t":6.05,"b":6.28,"o":47},{"d":99.74,"e":101.21,"t":6.28,"b":9.21,"o":13},{"d":99.74,"e":101.21,"t":9.21,"b":9.48,"o":55},
{"d":101.21,"e":102.67,"t":0,"b":3.02,"o":209},{"d":101.21,"e":102.67,"t":3.02,"b":3.25,"o":203},{"d":101.21,"e":102.67,"t":3.25,"b":3.84,"o":175},{"d":101.21,"e":102.67,"t":3.84,"b":4.3,"o":168},{"d":101.21,"e":102.67,"t":4.3,"b":4.54,"o":172},{"d":101.21,"e":102.67,"t":4.54,"b":4.88,"o":156},{"d":101.21,"e":102.67,"t":4.88,"b":5.23,"o":145},{"d":101.21,"e":102.67,"t":5.23,"b":5.58,"o":125},{"d":101.21,"e":102.67,"t":5.58,"b":6.05,"o":94},{"d":101.21,"e":102.67,"t":6.05,"b":6.28,"o":63},{"d":101.21,"e":102.67,"t":6.28,"b":9.21,"o":13},{"d":101.21,"e":102.67,"t":9.21,"b":9.48,"o":60},
{"d":102.67,"e":104.13,"t":0,"b":2.56,"o":211},{"d":102.67,"e":104.13,"t":2.56,"b":3.25,"o":203},{"d":102.67,"e":104.13,"t":3.25,"b":4.07,"o":195},{"d":102.67,"e":104.13,"t":4.07,"b":4.3,"o":172},{"d":102.67,"e":104.13,"t":4.3,"b":4.54,"o":140},{"d":102.67,"e":104.13,"t":4.54,"b":4.88,"o":133},{"d":102.67,"e":104.13,"t":4.88,"b":5.58,"o":117},{"d":102.67,"e":104.13,"t":5.58,"b":5.81,"o":110},{"d":102.67,"e":104.13,"t":5.81,"b":6.05,"o":94},{"d":102.67,"e":104.13,"t":6.05,"b":6.28,"o":63},{"d":102.67,"e":104.13,"t":6.28,"b":9.21,"o":13},{"d":102.67,"e":104.13,"t":9.21,"b":9.48,"o":65},
{"d":104.13,"e":105.6,"t":0,"b":2.79,"o":215},{"d":104.13,"e":105.6,"t":2.79,"b":3.84,"o":207},{"d":104.13,"e":105.6,"t":3.84,"b":4.07,"o":187},{"d":104.13,"e":105.6,"t":4.07,"b":4.3,"o":164},{"d":104.13,"e":105.6,"t":4.3,"b":4.54,"o":133},{"d":104.13,"e":105.6,"t":4.54,"b":5.0,"o":117},{"d":104.13,"e":105.6,"t":5.0,"b":5.7,"o":105},{"d":104.13,"e":105.6,"t":5.7,"b":6.05,"o":88},{"d":104.13,"e":105.6,"t":6.05,"b":6.28,"o":55},{"d":104.13,"e":105.6,"t":6.28,"b":9.21,"o":13},{"d":104.13,"e":105.6,"t":9.21,"b":9.48,"o":67},
{"d":105.6,"e":107.06,"t":0,"b":2.79,"o":215},{"d":105.6,"e":107.06,"t":2.79,"b":3.6,"o":207},{"d":105.6,"e":107.06,"t":3.6,"b":4.07,"o":187},{"d":105.6,"e":107.06,"t":4.07,"b":4.3,"o":164},{"d":105.6,"e":107.06,"t":4.3,"b":4.54,"o":133},{"d":105.6,"e":107.06,"t":4.54,"b":5.0,"o":117},{"d":105.6,"e":107.06,"t":5.0,"b":5.58,"o":105},{"d":105.6,"e":107.06,"t":5.58,"b":5.81,"o":80},{"d":105.6,"e":107.06,"t":5.81,"b":6.05,"o":47},{"d":105.6,"e":107.06,"t":6.05,"b":9.21,"o":13},
{"d":107.06,"e":108.53,"t":0,"b":0.46,"o":219},{"d":107.06,"e":108.53,"t":0.46,"b":3.25,"o":215},{"d":107.06,"e":108.53,"t":3.25,"b":3.6,"o":207},{"d":107.06,"e":108.53,"t":3.6,"b":4.07,"o":187},{"d":107.06,"e":108.53,"t":4.07,"b":4.3,"o":156},{"d":107.06,"e":108.53,"t":4.3,"b":4.54,"o":133},{"d":107.06,"e":108.53,"t":4.54,"b":4.88,"o":117},{"d":107.06,"e":108.53,"t":4.88,"b":5.35,"o":105},{"d":107.06,"e":108.53,"t":5.35,"b":5.58,"o":88},{"d":107.06,"e":108.53,"t":5.58,"b":5.81,"o":55},{"d":107.06,"e":108.53,"t":5.81,"b":9.21,"o":13},
{"d":108.53,"e":109.99,"t":0,"b":0.35,"o":238},{"d":108.53,"e":109.99,"t":0.35,"b":0.7,"o":219},{"d":108.53,"e":109.99,"t":0.7,"b":2.67,"o":211},{"d":108.53,"e":109.99,"t":2.67,"b":3.6,"o":203},{"d":108.53,"e":109.99,"t":3.6,"b":4.07,"o":187},{"d":108.53,"e":109.99,"t":4.07,"b":4.3,"o":172},{"d":108.53,"e":109.99,"t":4.3,"b":4.54,"o":140},{"d":108.53,"e":109.99,"t":4.54,"b":4.77,"o":117},{"d":108.53,"e":109.99,"t":4.77,"b":5.58,"o":66},{"d":108.53,"e":109.99,"t":5.58,"b":6.05,"o":40},{"d":108.53,"e":109.99,"t":6.05,"b":9.21,"o":13},
{"d":109.99,"e":111.45,"t":0,"b":0.35,"o":219},{"d":109.99,"e":111.45,"t":0.35,"b":3.6,"o":203},{"d":109.99,"e":111.45,"t":3.6,"b":4.3,"o":187},{"d":109.99,"e":111.45,"t":4.3,"b":4.54,"o":156},{"d":109.99,"e":111.45,"t":4.54,"b":4.77,"o":125},{"d":109.99,"e":111.45,"t":4.77,"b":5.58,"o":70},{"d":109.99,"e":111.45,"t":5.58,"b":6.05,"o":40},{"d":109.99,"e":111.45,"t":6.05,"b":9.21,"o":13},
{"d":111.45,"e":112.92,"t":0,"b":0.46,"o":195},{"d":111.45,"e":112.92,"t":0.46,"b":3.95,"o":190},{"d":111.45,"e":112.92,"t":3.95,"b":4.3,"o":187},{"d":111.45,"e":112.92,"t":4.3,"b":4.65,"o":180},{"d":111.45,"e":112.92,"t":4.65,"b":5.0,"o":130},{"d":111.45,"e":112.92,"t":5.0,"b":6.05,"o":120},{"d":111.45,"e":112.92,"t":6.05,"b":6.28,"o":75},{"d":111.45,"e":112.92,"t":6.28,"b":6.51,"o":55},{"d":111.45,"e":112.92,"t":6.51,"b":6.98,"o":40},{"d":111.45,"e":112.92,"t":6.98,"b":9.21,"o":18},
{"d":112.92,"e":114.38,"t":0,"b":4.42,"o":184},{"d":112.92,"e":114.38,"t":4.42,"b":5.0,"o":175},{"d":112.92,"e":114.38,"t":5.0,"b":5.81,"o":168},{"d":112.92,"e":114.38,"t":5.81,"b":6.05,"o":150},{"d":112.92,"e":114.38,"t":6.05,"b":6.28,"o":127},{"d":112.92,"e":114.38,"t":6.28,"b":6.51,"o":65},{"d":112.92,"e":114.38,"t":6.51,"b":8.84,"o":16},{"d":112.92,"e":114.38,"t":8.84,"b":9.21,"o":31},
{"d":114.38,"e":115.85,"t":0,"b":0.23,"o":195},{"d":114.38,"e":115.85,"t":0.23,"b":4.65,"o":184},{"d":114.38,"e":115.85,"t":4.65,"b":5.58,"o":175},{"d":114.38,"e":115.85,"t":5.58,"b":6.05,"o":172},{"d":114.38,"e":115.85,"t":6.05,"b":6.28,"o":133},{"d":114.38,"e":115.85,"t":6.28,"b":6.51,"o":63},{"d":114.38,"e":115.85,"t":6.51,"b":8.84,"o":18},{"d":114.38,"e":115.85,"t":8.84,"b":9.21,"o":31},
{"d":115.85,"e":117.31,"t":0,"b":0.46,"o":187},{"d":115.85,"e":117.31,"t":0.46,"b":5.58,"o":180},{"d":115.85,"e":117.31,"t":5.58,"b":6.05,"o":172},{"d":115.85,"e":117.31,"t":6.05,"b":6.28,"o":127},{"d":115.85,"e":117.31,"t":6.28,"b":6.51,"o":63},{"d":115.85,"e":117.31,"t":6.51,"b":8.84,"o":20},{"d":115.85,"e":117.31,"t":8.84,"b":9.21,"o":38},
{"d":117.31,"e":118.77,"t":0,"b":0.46,"o":175},{"d":117.31,"e":118.77,"t":0.46,"b":5.12,"o":172},{"d":117.31,"e":118.77,"t":5.12,"b":5.81,"o":164},{"d":117.31,"e":118.77,"t":5.81,"b":6.05,"o":156},{"d":117.31,"e":118.77,"t":6.05,"b":6.28,"o":125},{"d":117.31,"e":118.77,"t":6.28,"b":6.74,"o":75},{"d":117.31,"e":118.77,"t":6.74,"b":7.91,"o":60},{"d":117.31,"e":118.77,"t":7.91,"b":8.6,"o":40},{"d":117.31,"e":118.77,"t":8.6,"b":9.21,"o":31},
{"d":118.77,"e":120.24,"t":0,"b":0.7,"o":172},{"d":118.77,"e":120.24,"t":0.7,"b":2.09,"o":164},{"d":118.77,"e":120.24,"t":2.09,"b":5.81,"o":156},{"d":118.77,"e":120.24,"t":5.81,"b":6.28,"o":135},{"d":118.77,"e":120.24,"t":6.28,"b":7.79,"o":94},{"d":118.77,"e":120.24,"t":7.79,"b":8.37,"o":80},{"d":118.77,"e":120.24,"t":8.37,"b":8.84,"o":63},{"d":118.77,"e":120.24,"t":8.84,"b":9.21,"o":47},
{"d":120.24,"e":121.7,"t":0,"b":0.46,"o":164},{"d":120.24,"e":121.7,"t":0.46,"b":5.58,"o":148},{"d":120.24,"e":121.7,"t":5.58,"b":6.28,"o":140},{"d":120.24,"e":121.7,"t":6.28,"b":6.98,"o":127},{"d":120.24,"e":121.7,"t":6.98,"b":7.91,"o":110},{"d":120.24,"e":121.7,"t":7.91,"b":8.37,"o":94},{"d":120.24,"e":121.7,"t":8.37,"b":8.84,"o":80},{"d":120.24,"e":121.7,"t":8.84,"b":9.21,"o":63},
{"d":121.7,"e":123.17,"t":0,"b":0.46,"o":164},{"d":121.7,"e":123.17,"t":0.46,"b":1.86,"o":156},{"d":121.7,"e":123.17,"t":1.86,"b":4.19,"o":148},{"d":121.7,"e":123.17,"t":4.19,"b":6.28,"o":140},{"d":121.7,"e":123.17,"t":6.28,"b":7.21,"o":137},{"d":121.7,"e":123.17,"t":7.21,"b":7.91,"o":127},{"d":121.7,"e":123.17,"t":7.91,"b":8.37,"o":117},{"d":121.7,"e":123.17,"t":8.37,"b":8.84,"o":94},{"d":121.7,"e":123.17,"t":8.84,"b":9.21,"o":80},
{"d":123.17,"e":124.63,"t":0,"b":0.23,"o":180},{"d":123.17,"e":124.63,"t":0.23,"b":3.25,"o":172},{"d":123.17,"e":124.63,"t":3.25,"b":4.65,"o":164},{"d":123.17,"e":124.63,"t":4.65,"b":6.28,"o":148},{"d":123.17,"e":124.63,"t":6.28,"b":7.67,"o":140},{"d":123.17,"e":124.63,"t":7.67,"b":8.6,"o":127},{"d":123.17,"e":124.63,"t":8.6,"b":9.21,"o":110}
],
"arrow": [{"d": 0.95, "e": 62.96, "t": 8.45}],
"heads": [{"d": 0.95, "t": 8.45, "h": "left"}, {"d": 62.96, "t": 8.45, "h": "right"}],
"notes": [{"d": 31.3, "t": 9.05, "s": "Wildfires in the Fort McMurray"}, {"d": 31.3, "t": 9.83, "s": "region (May 3ʳᵈ to July 4ᵗʰ)"}]
},
"resolve": {"scale": {"color": "shared", "x": "independent", "y": "independent"}, "legend": {"color": "shared"}},
"vconcat": [
{
  "title": {"text": "2015 Profile"},
  "width": 852, "height": 300.5,
  "data": {"name": "y15"},
  "mark": {"type": "rect", "clip": true, "x2Offset": 0.7, "y2Offset": 0.7},
  "encoding": {
    "x": {"field": "d", "type": "quantitative", "scale": {"domain": [0.5, 124], "nice": false, "zero": false},
          "axis": {"title": null, "labels": false, "values": [0.5, 31, 61, 92, 123], "tickSize": 8}},
    "x2": {"field": "e"},
    "y": {"field": "t", "type": "quantitative", "scale": {"domain": [0, 10.5], "reverse": true, "nice": false, "zero": false},
          "axis": {"title": "Depth (m)", "values": [0, 2, 4, 6, 8, 10], "labelAngle": 270, "labelAlign": "center", "labelBaseline": "bottom", "labelFontSize": 26, "labelPadding": 8, "titleFontSize": 41, "titlePadding": 2}},
    "y2": {"field": "b"},
    "color": {"field": "o", "type": "quantitative",
      "scale": {"domain": [0, 31.25, 93.75, 156.25, 218.75, 250], "range": ["#00007F", "#0000FF", "#00FFFF", "#FFFF00", "#FF0000", "#7F0000"], "interpolate": "rgb"},
      "legend": {"type": "gradient", "orient": "none", "legendX": 887, "legendY": 101, "direction": "vertical", "gradientLength": 502, "gradientThickness": 43, "gradientStrokeColor": "#000", "gradientStrokeWidth": 1, "values": [0, 50, 100, 150, 200, 250], "labelFontSize": 17, "labelOffset": 18, "labelColor": "#333", "title": "Oxygen (μM)", "titleOrient": "right", "titleFontSize": 30, "titleFontWeight": "normal", "titleAnchor": "middle", "titlePadding": 30, "titleColor": "#000",
        "encode": {"title": {"update": {"angle": {"value": 270}}}}}}
  }
},
{
  "title": {"text": "2016 Profile"},
  "width": 852, "height": 300.5,
  "encoding": {
    "x": {"field": "d", "type": "quantitative", "scale": {"domain": [0.5, 124], "nice": false, "zero": false},
          "axis": {"title": "Month", "values": [0.5, 31, 61, 92, 123], "labelExpr": "datum.value < 15 ? 'May' : datum.value < 45 ? 'Jun' : datum.value < 75 ? 'Jul' : datum.value < 105 ? 'Aug' : 'Sep'", "labelFlush": false, "labelFontSize": 25, "labelPadding": 3, "tickSize": 8, "titleFontSize": 40, "titlePadding": -5}},
    "y": {"field": "t", "type": "quantitative", "scale": {"domain": [0, 10.5], "reverse": true, "nice": false, "zero": false},
          "axis": {"title": "Depth (m)", "values": [0, 2, 4, 6, 8, 10], "labelAngle": 270, "labelAlign": "center", "labelBaseline": "bottom", "labelFontSize": 26, "labelPadding": 8, "titleFontSize": 41, "titlePadding": 2}}
  },
  "layer": [
    {"data": {"name": "y16"}, "mark": {"type": "rect", "clip": true, "x2Offset": 0.7, "y2Offset": 0.7},
     "encoding": {"x2": {"field": "e"}, "y2": {"field": "b"},
       "color": {"field": "o", "type": "quantitative",
         "scale": {"domain": [0, 31.25, 93.75, 156.25, 218.75, 250], "range": ["#00007F", "#0000FF", "#00FFFF", "#FFFF00", "#FF0000", "#7F0000"], "interpolate": "rgb"}}}},
    {"data": {"name": "arrow"}, "mark": {"type": "rule", "strokeWidth": 3, "color": "#000"},
     "encoding": {"x2": {"field": "e"}}},
    {"data": {"name": "heads"}, "mark": {"type": "point", "filled": true, "opacity": 1, "color": "#000", "size": 1280},
     "encoding": {"shape": {"field": "h", "type": "nominal", "legend": null,
       "scale": {"domain": ["left", "right"], "range": ["M0,0L1.9,-0.6L1.9,0.6Z", "M0,0L-1.9,-0.6L-1.9,0.6Z"]}}}},
    {"data": {"name": "notes"}, "mark": {"type": "text", "font": "DejaVu Sans", "fontSize": 18, "color": "#1a1a1a", "align": "center", "baseline": "middle"},
     "encoding": {"text": {"field": "s"}}}
  ]
}
]
}
